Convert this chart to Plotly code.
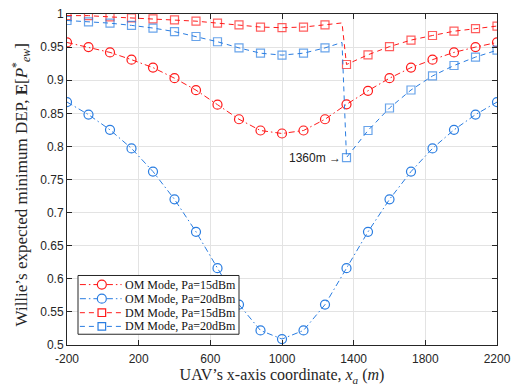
import plotly.graph_objects as go

# x positions (m)
x_om = [-200, -80, 40, 160, 280, 400, 520, 640, 760, 880, 1000,
        1120, 1240, 1360, 1480, 1600, 1720, 1840, 1960, 2080, 2200]
om_15 = [0.957, 0.950, 0.942, 0.931, 0.919, 0.903, 0.885, 0.863, 0.841, 0.824, 0.8195,
         0.824, 0.841, 0.8635, 0.884, 0.903, 0.919, 0.931, 0.942, 0.950, 0.957]
om_20 = [0.867, 0.848, 0.825, 0.797, 0.762, 0.720, 0.671, 0.616, 0.561, 0.522, 0.509,
         0.522, 0.561, 0.616, 0.671, 0.720, 0.762, 0.797, 0.825, 0.848, 0.867]

# DM curves contain one extra (unmarked) sample just before the switch point
x_dm = [-200, -80, 40, 160, 280, 400, 520, 640, 760, 880, 1000,
        1120, 1240, 1335, 1360, 1480, 1600, 1720, 1840, 1960, 2080, 2200]
dm_marked = [True] * 13 + [False] + [True] * 8
dm_15 = [0.9976, 0.9975, 0.9956, 0.9941, 0.9926, 0.9911, 0.9892, 0.9862, 0.9837, 0.9803, 0.9793,
         0.9803, 0.9837, 0.9865, 0.9237, 0.9384, 0.9507, 0.9606, 0.9675, 0.974, 0.9778, 0.9818]
dm_20 = [0.9902, 0.9882, 0.9862, 0.9828, 0.9788, 0.9734, 0.966, 0.9581, 0.9488, 0.9408, 0.9379,
         0.9408, 0.9488, 0.957, 0.7831, 0.824, 0.858, 0.8852, 0.9064, 0.9222, 0.9349, 0.9453]

series_names = ["OM Mode, Pa=15dBm", "OM Mode, Pa=20dBm", "DM Mode, Pa=15dBm", "DM Mode, Pa=20dBm"]

x_ticks = [-200, 200, 600, 1000, 1400, 1800, 2200]
y_ticks = [0.5, 0.55, 0.6, 0.65, 0.7, 0.75, 0.8, 0.85, 0.9, 0.95, 1.0]
y_ticklabels = ["0.5", "0.55", "0.6", "0.65", "0.7", "0.75", "0.8", "0.85", "0.9", "0.95", "1"]

annot_x, annot_y, annot_text = 1340, 0.7831, "1360m \u2192"

x_title = "UAV\u2019s x-axis coordinate, <i>x<sub>a</sub></i> (<i>m</i>)"
y_title = "Willie\u2019s expected minimum DEP, <b>E</b>[<i>P</i><sup>*</sup><sub><i>ew</i></sub>]"

RED = "#ff1a1a"
BLUE = "#2a7de1"
SERIF = "Liberation Serif, Times New Roman, serif"
SANS = "Liberation Sans, Arial, Helvetica, sans-serif"

OM_DASH = "6px,3px,1.5px,3px"
DM_DASH = "5px,4px"

styles = [
    dict(color=RED, dash=OM_DASH, symbol="circle-open"),
    dict(color=BLUE, dash=OM_DASH, symbol="circle-open"),
    dict(color=RED, dash=DM_DASH, symbol="square-open"),
    dict(color=BLUE, dash=DM_DASH, symbol="square-open"),
]

fig = go.Figure()
fig.add_trace(go.Scatter(x=x_om, y=om_15, mode="lines+markers", name=series_names[0],
                         line=dict(color=RED, width=1, dash=OM_DASH),
                         marker=dict(symbol="circle-open", size=9, color=RED, line=dict(width=1.2))))
fig.add_trace(go.Scatter(x=x_om, y=om_20, mode="lines+markers", name=series_names[1],
                         line=dict(color=BLUE, width=1, dash=OM_DASH),
                         marker=dict(symbol="circle-open", size=9, color=BLUE, line=dict(width=1.2))))
sizes = [8 if m else 0 for m in dm_marked]
fig.add_trace(go.Scatter(x=x_dm, y=dm_15, mode="lines+markers", name=series_names[2],
                         line=dict(color=RED, width=1, dash=DM_DASH),
                         marker=dict(symbol="square-open", size=sizes, color=RED, line=dict(width=1.2))))
fig.add_trace(go.Scatter(x=x_dm, y=dm_20, mode="lines+markers", name=series_names[3],
                         line=dict(color=BLUE, width=1, dash=DM_DASH),
                         marker=dict(symbol="square-open", size=sizes, color=BLUE, line=dict(width=1.2))))

fig.add_annotation(x=annot_x, y=annot_y, text=annot_text, showarrow=False,
                   xanchor="right", yanchor="middle", font=dict(family=SANS, size=12, color="#222"))

# ---- compact MATLAB-like legend box (drawn in paper coordinates) ----
box_x0, box_x1, box_y0, box_y1 = 0.0256, 0.400, 0.0325, 0.210
row_y = [0.1825, 0.1399, 0.0976, 0.0562]
ln_x0, ln_x1, mk_x, txt_x = 0.030, 0.127, 0.081, 0.131
fig.add_shape(type="rect", xref="paper", yref="paper", x0=box_x0, x1=box_x1, y0=box_y0, y1=box_y1,
              line=dict(color="#262626", width=1), fillcolor="white", layer="above")
for name, st, ry in zip(series_names, styles, row_y):
    fig.add_shape(type="line", xref="paper", yref="paper", x0=ln_x0, x1=ln_x1, y0=ry, y1=ry,
                  line=dict(color=st["color"], width=1, dash=st["dash"]), layer="above")
    shape_type = "circle" if st["symbol"].startswith("circle") else "rect"
    half = 4.5 if shape_type == "circle" else 3.8
    fig.add_shape(type=shape_type, xref="paper", yref="paper",
                  xsizemode="pixel", ysizemode="pixel", xanchor=mk_x, yanchor=ry,
                  x0=-half, x1=half, y0=-half, y1=half,
                  line=dict(color=st["color"], width=1.2), fillcolor="white", layer="above")
    fig.add_annotation(xref="paper", yref="paper", x=txt_x, y=ry, text=name, showarrow=False,
                       xanchor="left", yanchor="middle",
                       font=dict(family=SERIF, size=12, color="#111"))

# y-axis title as a rotated annotation (for precise placement)
fig.add_annotation(xref="paper", yref="paper", x=-0.107, y=0.485, text=y_title, showarrow=False,
                   textangle=-90, xanchor="center", yanchor="middle",
                   font=dict(family=SERIF, size=17, color="#262626"))

axis_common = dict(showline=True, linecolor="#262626", linewidth=1, mirror="ticks",
                   ticks="inside", ticklen=5, tickcolor="#262626",
                   showgrid=True, gridcolor="#e3e3e3", gridwidth=1, zeroline=False,
                   tickfont=dict(family=SANS, size=12, color="#262626"))

fig.update_xaxes(range=[-200, 2200], tickvals=x_ticks, ticktext=[str(v) for v in x_ticks],
                 ticklabelstandoff=3,
                 title=dict(text=x_title,
                            font=dict(family=SERIF, size=16, color="#262626"), standoff=1),
                 **axis_common)
fig.update_yaxes(range=[0.5, 1.0], tickvals=y_ticks, ticktext=y_ticklabels,
                 **axis_common)

fig.update_layout(
    width=525, height=392,
    margin=dict(l=67, r=28, t=7, b=47),
    plot_bgcolor="white", paper_bgcolor="white",
    showlegend=False,
)

fig.write_html("out.html", config={"displayModeBar": False},
               post_script="document.body.style.margin='0';")
